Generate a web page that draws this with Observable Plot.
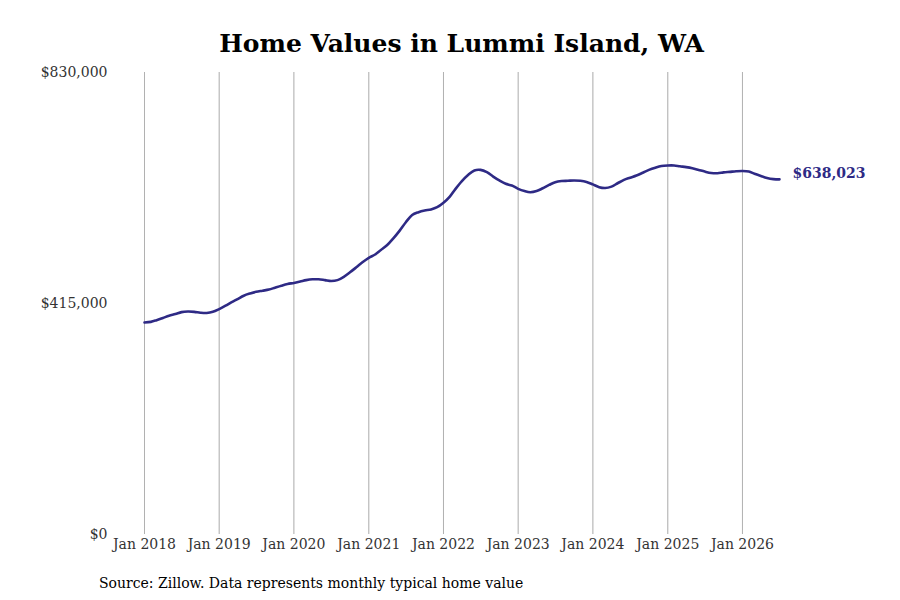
<!DOCTYPE html>
<html>
<head>
<meta charset="utf-8">
<script src="https://cdn.jsdelivr.net/npm/d3@7"></script>
<script src="https://cdn.jsdelivr.net/npm/@observablehq/plot@0.6"></script>
<style>
  body { margin: 0; background: #fff; }
  #wrap { position: relative; width: 900px; height: 600px; font-family: "DejaVu Serif", serif; }
  #title { position: absolute; top: 29px; left: 144px; width: 635px; text-align: center; font-size: 25px; font-weight: bold; color: #000; white-space: nowrap; }
  #caption { position: absolute; top: 575px; left: 99px; font-size: 14px; color: #000; white-space: nowrap; }
  #chart { position: absolute; top: 0; left: 0; }
</style>
</head>
<body>
<div id="wrap">
  <div id="chart"></div>
  <div id="title">Home Values in Lummi Island, WA</div>
  <div id="caption">Source: Zillow. Data represents monthly typical home value</div>
</div>
<script>
const startYear = 2018;
const values = [
  381000, 382000, 385000, 389000, 393000, 396000, 399500, 400500, 400000, 398500, 398000, 400000,
  405000, 411000, 417000, 423000, 429000, 433000, 436000, 438000, 440000, 443500, 447000, 450000,
  452000, 454500, 457000, 458500, 458500, 457000, 455500, 457000, 463000, 471000, 480000, 489000,
  497000, 503000, 511000, 520000, 532000, 546000, 561000, 574000, 579000, 582000, 584000, 588000,
  596000, 607000, 621000, 635000, 646000, 654000, 655000, 651000, 643000, 636000, 630000, 627000,
  621000, 617000, 615000, 617000, 622000, 628000, 633000, 635000, 635500, 636000, 635500, 633500,
  629000, 624000, 622500, 625000, 631000, 637000, 641000, 645000, 650000, 655000, 659000, 662000,
  663000, 663000, 661500, 660000, 658000, 655000, 652000, 649500, 649000, 650500, 651500, 652500,
  653000, 652000, 648000, 644000, 640500, 638500, 638023
];
const yTicks = [0, 415000, 830000];
const lastLabel = "$638,023";

const data = values.map((v, i) => ({date: new Date(Date.UTC(startYear, i, 1)), value: v}));
const last = data[data.length - 1];

const chart = Plot.plot({
  width: 900,
  height: 600,
  marginTop: 72,
  marginBottom: 66,
  marginLeft: 144,
  marginRight: 121,
  style: {fontFamily: "DejaVu Serif, serif", fontSize: "14px", color: "#333", background: "transparent"},
  x: {
    type: "utc",
    domain: [data[0].date, last.date],
    ticks: d3.utcYear.every(1),
    tickFormat: d3.utcFormat("%b %Y"),
    tickSize: 0,
    tickPadding: 5,
    grid: true,
    label: null
  },
  y: {
    domain: [0, 830000],
    ticks: yTicks,
    tickFormat: d => "$" + d3.format(",")(d),
    tickSize: 0,
    tickPadding: 37,
    label: null
  },
  marks: [
    Plot.gridX(d3.utcYear.every(1).range(data[0].date, last.date), {stroke: "#999", strokeOpacity: 0.7, strokeWidth: 1}),
    Plot.line(data, {x: "date", y: "value", stroke: "#2e2a85", strokeWidth: 2.6, curve: "catmull-rom"}),
    Plot.text([last], {x: "date", y: "value", text: () => lastLabel, dx: 13, dy: -6, textAnchor: "start", fill: "#2e2a85", fontWeight: "bold", fontSize: 14})
  ]
});
document.getElementById("chart").appendChild(chart);
</script>
</body>
</html>
